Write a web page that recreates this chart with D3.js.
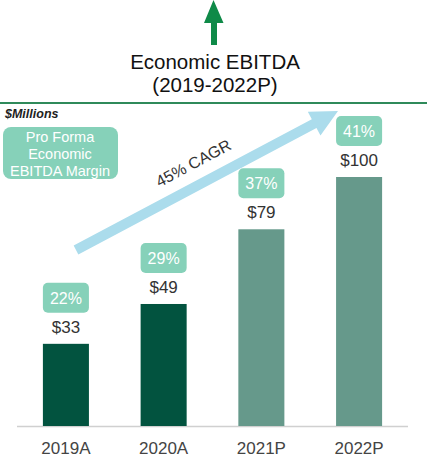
<!DOCTYPE html>
<html>
<head>
<meta charset="utf-8">
<script src="https://cdn.jsdelivr.net/npm/d3@7"></script>
<style>
  body { margin: 0; background: #fff; }
  svg { display: block; font-family: "Liberation Sans", Arial, sans-serif; }
</style>
</head>
<body>
<div id="chart"></div>
<script>
const categories = ["2019A", "2020A", "2021P", "2022P"];
const ebitda = [33, 49, 79, 100];
const margins = ["22%", "29%", "37%", "41%"];
const projected = [false, false, true, true];

const width = 427, height = 461;

const svg = d3.select("#chart").append("svg")
    .attr("width", width)
    .attr("height", height);

// green up arrow above the title
svg.append("path")
    .attr("d", "M213.5,0 L223.5,23 L217,23 L217,45 L211,45 L211,23 L204,23 Z")
    .attr("fill", "#0f8a48");

// title
const title = svg.append("text")
    .attr("text-anchor", "middle")
    .attr("font-size", 20.5)
    .attr("fill", "#111");
title.append("tspan").attr("x", 215).attr("y", 69).text("Economic EBITDA");
title.append("tspan").attr("x", 215).attr("y", 92).text("(2019-2022P)");

// green rule under title
svg.append("line")
    .attr("x1", 0).attr("x2", width)
    .attr("y1", 103).attr("y2", 103)
    .attr("stroke", "#2f8a5a")
    .attr("stroke-width", 2);

svg.append("text")
    .attr("x", 5).attr("y", 118)
    .attr("font-size", 12.5)
    .attr("font-style", "italic")
    .attr("font-weight", "bold")
    .attr("fill", "#222")
    .text("$Millions");

// legend box
svg.append("rect")
    .attr("x", 3).attr("y", 127)
    .attr("width", 115).attr("height", 52)
    .attr("rx", 8)
    .attr("fill", "#86d1b9");
const leg = svg.append("text")
    .attr("text-anchor", "middle")
    .attr("font-size", 14.5)
    .attr("fill", "#fff");
["Pro Forma", "Economic", "EBITDA Margin"].forEach((t, i) => {
  leg.append("tspan").attr("x", 60).attr("y", 142 + i * 17).text(t);
});

// scales
const x = d3.scaleBand()
    .domain(categories)
    .range([17, 408])
    .paddingInner(0.529)
    .paddingOuter(0.265);

const y = d3.scaleLinear()
    .domain([0, 100])
    .range([426, 177]);

// CAGR arrow
const ax0 = 76, ay0 = 250, ax1 = 338, ay1 = 111;
const ang = Math.atan2(ay1 - ay0, ax1 - ax0) * 180 / Math.PI;
const len = Math.hypot(ax1 - ax0, ay1 - ay0);
svg.append("path")
    .attr("transform", `translate(${ax0},${ay0}) rotate(${ang})`)
    .attr("d", `M0,-5 L${len - 27},-5 L${len - 27},-13.5 L${len},0 L${len - 27},13.5 L${len - 27},5 L0,5 Z`)
    .attr("fill", "#abdcec");

svg.append("text")
    .attr("transform", `translate(196,168) rotate(${ang})`)
    .attr("text-anchor", "middle")
    .attr("font-size", 16)
    .attr("fill", "#333")
    .text("45% CAGR");

// baseline
svg.append("line")
    .attr("x1", 17).attr("x2", 408)
    .attr("y1", y(0) + 0.5).attr("y2", y(0) + 0.5)
    .attr("stroke", "#d0d0d0")
    .attr("stroke-width", 1.5);

// bars
const data = categories.map((c, i) => ({ c, v: ebitda[i], m: margins[i], p: projected[i] }));

svg.append("g")
  .selectAll("rect")
  .data(data)
  .join("rect")
    .attr("x", d => x(d.c))
    .attr("y", d => y(d.v))
    .attr("width", x.bandwidth())
    .attr("height", d => y(0) - y(d.v))
    .attr("fill", d => d.p ? "#66998b" : "#02533f");

// value labels
svg.append("g")
  .selectAll("text")
  .data(data)
  .join("text")
    .attr("x", d => x(d.c) + x.bandwidth() / 2)
    .attr("y", d => y(d.v) - 11)
    .attr("text-anchor", "middle")
    .attr("font-size", 17)
    .attr("fill", "#333")
    .text(d => "$" + d.v);

// margin boxes
const mg = svg.append("g")
  .selectAll("g")
  .data(data)
  .join("g")
    .attr("transform", d => `translate(${x(d.c)},${y(d.v) - 61})`);
mg.append("rect")
    .attr("width", x.bandwidth())
    .attr("height", 30)
    .attr("rx", 5)
    .attr("fill", "#86d1b9");
mg.append("text")
    .attr("x", x.bandwidth() / 2)
    .attr("y", 21)
    .attr("text-anchor", "middle")
    .attr("font-size", 16)
    .attr("fill", "#fff")
    .text(d => d.m);

// category axis labels
svg.append("g")
  .selectAll("text")
  .data(categories)
  .join("text")
    .attr("x", d => x(d) + x.bandwidth() / 2)
    .attr("y", 454)
    .attr("text-anchor", "middle")
    .attr("font-size", 17)
    .attr("fill", "#444")
    .text(d => d);
</script>
</body>
</html>
